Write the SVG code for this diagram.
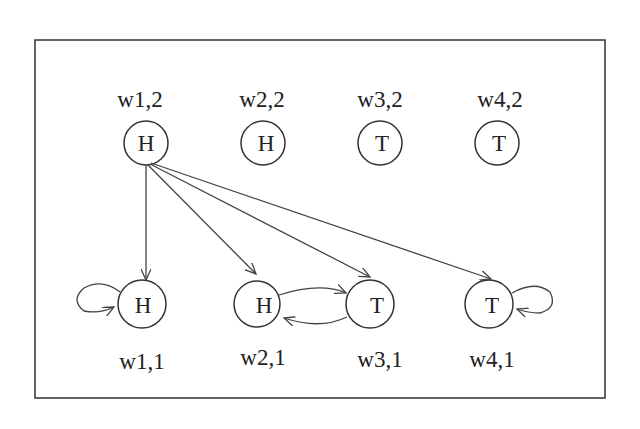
<svg xmlns="http://www.w3.org/2000/svg" width="640" height="429" viewBox="0 0 640 429">
<style>
.n{fill:#fff;stroke:#333;stroke-width:1.5}
.t{font-family:"Liberation Serif",serif;font-size:23px;fill:#222;text-anchor:middle}
.c{fill:none;stroke:#444;stroke-width:1.3;marker-end:url(#a)}
</style>
<defs><marker id="a" markerWidth="12" markerHeight="10" refX="11" refY="5" orient="auto" markerUnits="userSpaceOnUse"><path d="M0,0 L11,5 L0,10" fill="none" stroke="#444" stroke-width="1.3"/></marker></defs>
<rect width="640" height="429" fill="#fff"/>
<rect x="35" y="40" width="570" height="358" fill="none" stroke="#333" stroke-width="1.5"/>
<g id="w12"><circle class="n" cx="146" cy="143" r="22"/><text class="t" x="146" y="151">H</text><text class="t" x="140" y="107">w1,2</text></g>
<g id="w22"><circle class="n" cx="263" cy="143" r="22"/><text class="t" x="266" y="151">H</text><text class="t" x="262" y="107">w2,2</text></g>
<g id="w32"><circle class="n" cx="380" cy="143" r="22"/><text class="t" x="382" y="151">T</text><text class="t" x="380" y="107">w3,2</text></g>
<g id="w42"><circle class="n" cx="497" cy="143" r="22"/><text class="t" x="499" y="151">T</text><text class="t" x="500" y="107">w4,2</text></g>
<g id="w11"><circle class="n" cx="142" cy="304" r="24"/><text class="t" x="143" y="313">H</text><text class="t" x="142" y="369">w1,1</text></g>
<g id="w21"><circle class="n" cx="257" cy="304" r="23"/><text class="t" x="264" y="313">H</text><text class="t" x="263" y="365">w2,1</text></g>
<g id="w31"><circle class="n" cx="370" cy="304" r="24"/><text class="t" x="377" y="313">T</text><text class="t" x="380" y="367">w3,1</text></g>
<g id="w41"><circle class="n" cx="489" cy="304" r="24"/><text class="t" x="492" y="313">T</text><text class="t" x="492" y="367">w4,1</text></g>
<g id="connectors">
<path class="c" d="M146,165 L146,280"/>
<path class="c" d="M148,165 L256,274"/>
<path class="c" d="M150,164 L370,277"/>
<path class="c" d="M151,163 L491,279"/>
<path class="c" d="M279,295 Q320,282 346,293"/>
<path class="c" d="M347,317 Q320,330 284,318"/>
<path class="c" d="M120,292 Q102,278 84,288 Q70,300 84,311 Q100,314 114,307"/>
<path class="c" d="M512,293 Q535,280 550,292 Q558,308 540,313 Q528,313 517,309"/>
</g>
</svg>
